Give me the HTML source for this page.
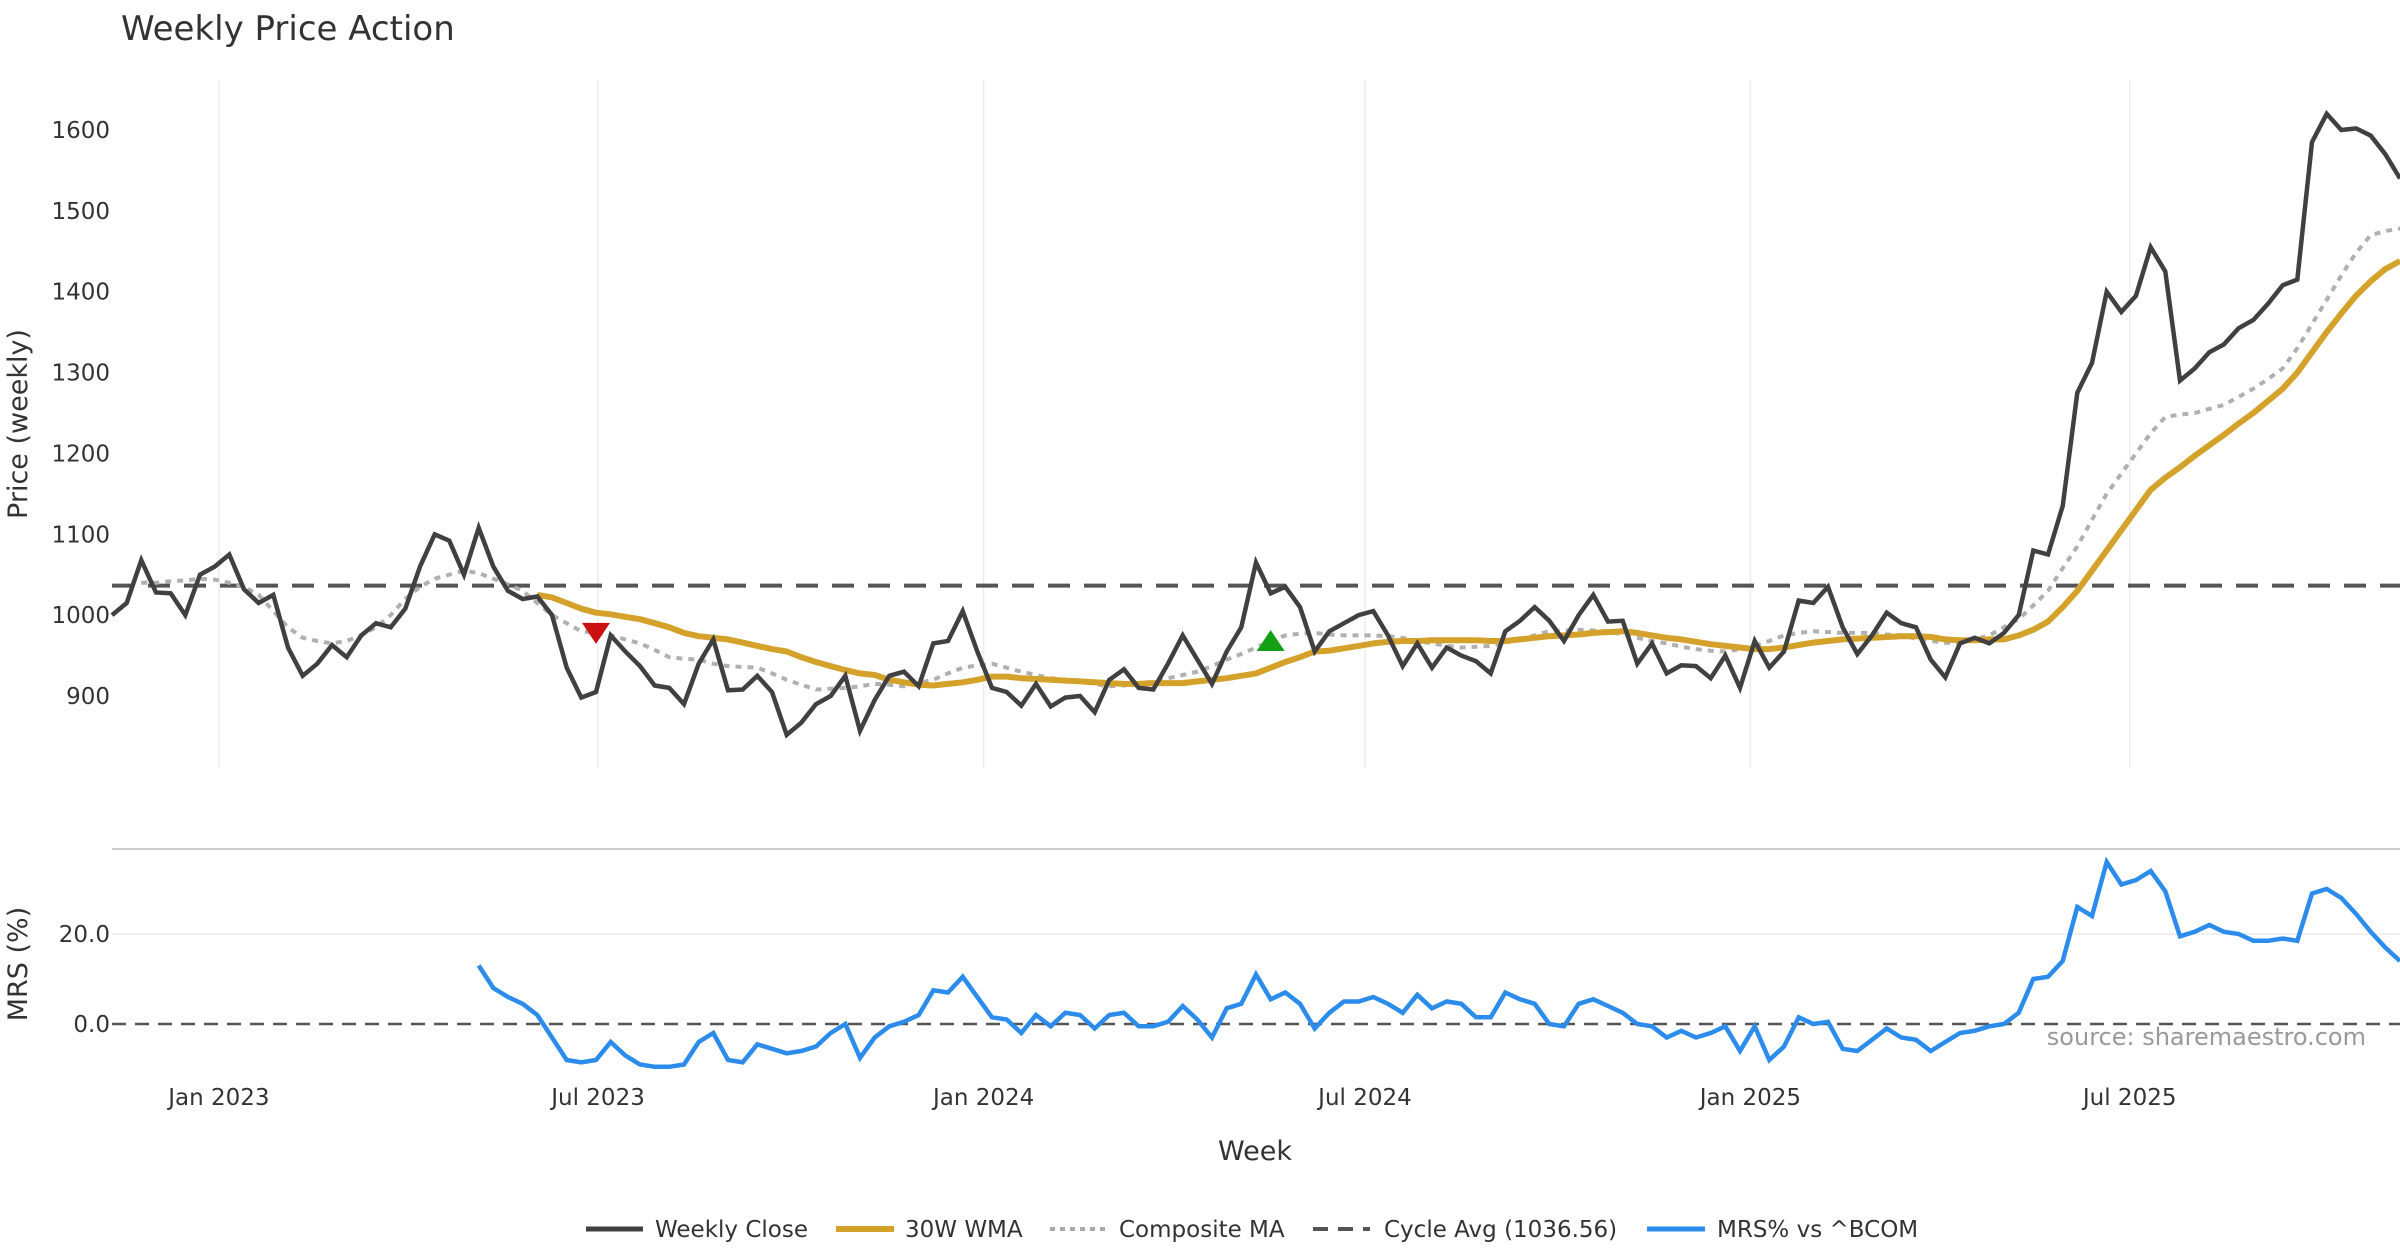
<!DOCTYPE html>
<html><head><meta charset="utf-8"><style>
html,body{margin:0;padding:0;background:#fff;}
svg{display:block;font-family:"DejaVu Sans","Liberation Sans",sans-serif;}
</style></head><body>
<svg id="chart" width="2400" height="1260" viewBox="0 0 2400 1260">
<text x="121" y="40" font-size="34" fill="#333">Weekly Price Action</text>
<text transform="translate(27,424) rotate(-90)" text-anchor="middle" font-size="27" fill="#333">Price (weekly)</text>
<text transform="translate(27,964) rotate(-90)" text-anchor="middle" font-size="27" fill="#333">MRS (%)</text>
<text x="1255" y="1160" text-anchor="middle" font-size="27" fill="#333">Week</text>
<text x="2366" y="1045" text-anchor="end" font-size="24" fill="#999">source: sharemaestro.com</text>
<g id="grid"></g><g id="series"></g><g id="axes"></g>
<g id="legend">
<line x1="586" y1="1229" x2="643" y2="1229" stroke="#404040" stroke-width="5"/>
<text x="655" y="1237" font-size="23" fill="#333">Weekly Close</text>
<line x1="836" y1="1229" x2="894" y2="1229" stroke="#d4a22a" stroke-width="6"/>
<text x="905" y="1237" font-size="23" fill="#333">30W WMA</text>
<line x1="1050" y1="1229" x2="1105" y2="1229" stroke="#aaa" stroke-width="4" stroke-dasharray="5,5"/>
<text x="1119" y="1237" font-size="23" fill="#333">Composite MA</text>
<line x1="1313" y1="1229" x2="1370" y2="1229" stroke="#555" stroke-width="4" stroke-dasharray="15,10"/>
<text x="1384" y="1237" font-size="23" fill="#333">Cycle Avg (1036.56)</text>
<line x1="1647" y1="1229" x2="1705" y2="1229" stroke="#2b8ceb" stroke-width="5"/>
<text x="1717" y="1237" font-size="23" fill="#333">MRS% vs ^BCOM</text>
</g>
</svg>
<script>
const closes=[1000,1015,1068,1028,1027,1000,1050,1060,1075,1032,1015,1025,960,925,940,963,948,975,990,985,1008,1060,1100,1092,1050,1108,1060,1030,1020,1023,1000,935,898,905,975,955,937,913,910,890,940,
970,907,908,925,905,852,867,890,900,925,857,895,925,930,912,965,968,1005,955,910,905,888,915,887,898,900,880,920,933,910,908,940,975,945,915,955,985,1065,1027,1035,1010,955,980,990,1000,1005,975,937,965,935,960,950,943,928,980,993,1010,993,968,1000,1025,992,993,940,965,928,938,937,922,950,910,968,935,955,1018,1015,1035,985,952,975,1003,990,985,945,923,965,972,965,978,1000,1080,1075,1135,1275,1312,1400,1375,1395,1455,1425,1290,1305,1325,1335,1355,1365,1385,1408,1415,1585,1620,1600,1602,1593,1570,1540];
const wmaStart=29;
const wma=[1025,1022,1015,1008,1003,1001,998,995,990,985,978,974,972,970,966,962,958,955,948,942,937,932,928,926,920,917,914,913,915,917,920,924,924,922,921,920,919,918,917,916,915,915,916,916,916,918,920,922,925,928,935,942,948,955,956,959,962,965,967,968,968,969,969,969,969,968,968,970,972,974,975,976,978,979,980,978,975,972,970,967,964,962,960,958,958,960,963,966,968,970,971,972,973,974,974,973,970,969,969,970,970,975,982,992,1010,1030,1055,1080,1105,1130,1155,1170,1183,1197,1210,1223,1237,1250,1265,1280,1300,1325,1350,1373,1395,1413,1428,1438];
const compStart=2;
const composite=[1040,1040,1042,1043,1045,1044,1040,1035,1025,1005,985,972,968,965,968,975,985,1000,1020,1035,1045,1050,1055,1052,1045,1038,1030,1015,1000,990,980,978,975,970,965,957,948,946,945,940,937,936,935,928,920,914,908,909,910,912,915,914,912,916,920,928,935,938,940,935,930,926,922,920,918,915,912,913,915,918,922,926,930,937,945,952,960,968,975,977,978,976,975,975,975,974,972,968,965,962,960,961,962,966,970,975,980,981,982,981,980,976,972,968,965,961,958,956,955,958,962,968,975,978,980,979,978,978,978,976,975,971,968,966,965,970,975,985,995,1012,1030,1058,1085,1118,1150,1175,1200,1225,1245,1248,1250,1255,1260,1270,1280,1292,1305,1330,1360,1390,1420,1448,1470,1475,1478,1480];
const mrsStart=25;
const mrs=[13,8,6,4.5,2,-3,-8,-8.5,-8,-4,-7,-9,-9.5,-9.5,-9,-4,-2,-8,-8.5,-4.5,-5.5,-6.5,-6,-5,-2,0,-7.5,-3,-0.5,0.5,2,7.5,7,10.5,6,1.5,1,-2,2,-0.5,2.5,2,-1,2,2.5,-0.5,-0.5,0.5,4,1,-3,3.5,4.5,11,5.5,7,4.5,-1,2.5,5,5,6,4.5,2.5,6.5,3.5,5,4.5,1.5,1.5,7,5.5,4.5,0,-0.5,4.5,5.5,4,2.5,0,-0.5,-3,-1.5,-3,-2,-0.5,-6,-0.5,-8,-5,1.5,0,0.5,-5.5,-6,-3.5,-1,-3,-3.5,-6,-4,-2,-1.5,-0.5,0,2.5,10,10.5,14,26,24,36,31,32,34,29.5,19.5,20.5,22,20.5,20,18.5,18.5,19,18.5,29,30,28,24.5,20.5,17,14];
const priceTicks=[900,1000,1100,1200,1300,1400,1500,1600];
const mrsTicks=[0,20];
const dateTickLabels=["Jan 2023","Jul 2023","Jan 2024","Jul 2024","Jan 2025","Jul 2025"];
const dateTickWeeks=[7.29,33.14,59.43,85.43,111.71,137.57];
const cycleAvg=1036.56;
const sellSignal=[33,978];
const buySignal=[79,968];

const NS="http://www.w3.org/2000/svg";
const X0=112,X1=2400;
const xS=i=>X0+i*(X1-X0)/(closes.length-1);
const yP=v=>696-(v-900)*0.8086;
const yM=v=>1024-v*4.5;
function mk(parent,tag,attrs){const e=document.createElementNS(NS,tag);for(const k in attrs)e.setAttribute(k,attrs[k]);document.getElementById(parent).appendChild(e);return e;}
function pathOf(arr,start,yf){return arr.map((v,j)=>(j?'L':'M')+xS(start+j).toFixed(1)+','+yf(v).toFixed(1)).join('');}

dateTickWeeks.forEach((w,k)=>{
  const g=mk('grid','line',{x1:xS(w),x2:xS(w),y1:80,y2:768,stroke:'#ececec','stroke-width':1.5});
  
  
  const t=mk('axes','text',{x:xS(w),y:1105,'text-anchor':'middle','font-size':23,fill:'#333'});
  t.textContent=dateTickLabels[k];
  
  
});
priceTicks.forEach(v=>{
  const t=mk('axes','text',{x:110,y:yP(v)+8,'text-anchor':'end','font-size':23,fill:'#333'});
  t.textContent=v;
  
  
});
mrsTicks.forEach(v=>{
  const t=mk('axes','text',{x:110,y:yM(v)+8,'text-anchor':'end','font-size':23,fill:'#333'});
  t.textContent=v.toFixed(1);
  
  
});
const gm=mk('grid','line',{x1:X0,x2:X1,y1:yM(20),y2:yM(20),stroke:'#ececec','stroke-width':1.5});


const sep=mk('grid','line',{x1:X0,x2:X1,y1:849,y2:849,stroke:'#ccc','stroke-width':2});



const cyc=mk('series','line',{x1:X0,x2:X1,y1:yP(cycleAvg),y2:yP(cycleAvg),stroke:'#555','stroke-width':4,'stroke-dasharray':'22,14'});


const zl=mk('series','line',{x1:X0,x2:X1,y1:yM(0),y2:yM(0),stroke:'#555','stroke-width':2.5,'stroke-dasharray':'14,9'});



const cp=mk('series','path',{d:pathOf(composite,compStart,yP),fill:'none',stroke:'#b0b0b0','stroke-width':4,'stroke-dasharray':'6,6'});


const wp=mk('series','path',{d:pathOf(wma,wmaStart,yP),fill:'none',stroke:'#d4a22a','stroke-width':6,'stroke-linejoin':'round'});


const clp=mk('series','path',{d:pathOf(closes,0,yP),fill:'none',stroke:'#404040','stroke-width':4.5,'stroke-linejoin':'miter'});


const mp=mk('series','path',{d:pathOf(mrs,mrsStart,yM),fill:'none',stroke:'#2b8ceb','stroke-width':4.5});



const sx=xS(sellSignal[0]),sy=yP(sellSignal[1]);
const s=mk('series','polygon',{points:`${sx-14},${sy-10} ${sx+14},${sy-10} ${sx},${sy+11}`,fill:'#cc1010'});


const bx=xS(buySignal[0]),by=yP(buySignal[1]);
const b=mk('series','polygon',{points:`${bx-14},${by+10} ${bx+14},${by+10} ${bx},${by-11}`,fill:'#14a014'});


</script>
</body></html>
